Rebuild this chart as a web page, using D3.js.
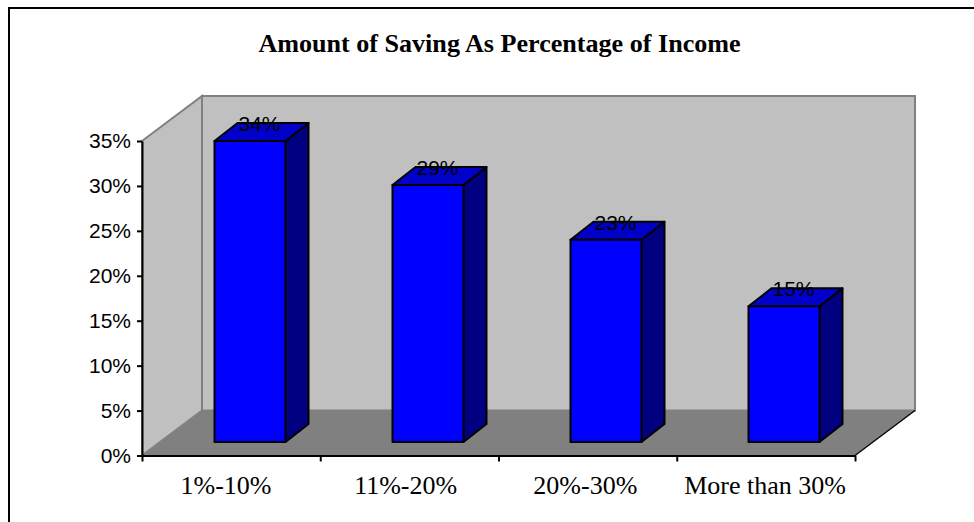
<!DOCTYPE html>
<html><head><meta charset="utf-8">
<script src="https://cdn.jsdelivr.net/npm/d3@7"></script>
<style>html,body{margin:0;padding:0;background:#fff;overflow:hidden}svg{display:block}</style>
</head><body><svg id="c" width="974" height="522"></svg>
<script>
const titleText = "Amount of Saving As Percentage of Income";
const categories = ["1%-10%","11%-20%","20%-30%","More than 30%"];
const values = [33.5,28.6,22.5,15.1];
const valueLabels = ["34%","29%","23%","15%"];
const yTicks = [0,5,10,15,20,25,30,35];

const svg = d3.select("#c");
const x0=142,x1=855,y0=455.5,y1=141;
const dx=60,dy=45;           // wall depth
const bdx=23,bdy=18;         // bar depth
const off={x:18.2,y:13.5};   // bar placement inside floor
const x=d3.scaleBand().domain(categories).range([x0,x1]).paddingInner(.6).paddingOuter(.3);
const xLabel=d3.scalePoint().domain(categories).range([226,765]);
const y=d3.scaleLinear().domain([0,35]).range([y0,y1]);
const pts=a=>a.map(p=>p.join(",")).join(" ");

// frame
svg.append("path").attr("d","M9,522V8H974").attr("fill","none").attr("stroke","#000").attr("stroke-width",2);

// title
svg.append("text").attr("x",499.5).attr("y",52).attr("text-anchor","middle")
  .attr("font-family","Liberation Serif").attr("font-weight","bold").attr("font-size",26.1).text(titleText);

// walls
const wall={fill:"#c0c0c0",stroke:"#808080"};
svg.append("polygon").attr("points",pts([[x0,y1],[x0+dx,y1-dy],[x0+dx,y0-dy],[x0,y0]]))
  .attr("fill",wall.fill).attr("stroke",wall.stroke).attr("stroke-width",2);
svg.append("polygon").attr("points",pts([[x0+dx,y1-dy],[x1+dx,y1-dy],[x1+dx,y0-dy],[x0+dx,y0-dy]]))
  .attr("fill",wall.fill).attr("stroke",wall.stroke).attr("stroke-width",2);
svg.append("polygon").attr("points",pts([[x0,y0],[x0+dx,y0-dy],[x1+dx,y0-dy],[x1,y0]])).attr("fill","#808080");
svg.append("line").attr("x1",x1).attr("y1",y0).attr("x2",x1+dx).attr("y2",y0-dy).attr("stroke","#000").attr("stroke-width",1.3);

// axes
const font="Liberation Sans";
const ay=svg.append("g").attr("transform",`translate(${x0},0)`)
  .call(d3.axisLeft(y).tickValues(yTicks).tickFormat(d=>d+"%").tickSize(5).tickSizeOuter(0).tickPadding(6));
ay.selectAll("text").attr("font-family",font).attr("font-size",21).attr("fill","#000");
const xEdge=d3.scaleLinear().domain([0,categories.length]).range([x0,x1]);
const ax=svg.append("g").attr("transform",`translate(0,${y0})`)
  .call(d3.axisBottom(xEdge).tickValues(d3.range(categories.length+1)).tickFormat("").tickSize(6).tickSizeOuter(0));
[ay,ax].forEach(a=>a.selectAll("path,line").attr("stroke","#000").attr("stroke-width",2));

svg.append("g").selectAll("text").data(categories).join("text")
  .attr("x",d=>xLabel(d)).attr("y",494).attr("text-anchor","middle")
  .attr("font-family","Liberation Serif").attr("font-size",26).attr("fill","#000").text(d=>d);

// bars
const g=svg.append("g").selectAll("g").data(categories).join("g");
const L=d=>Math.round(x(d)+off.x)+.5, R=d=>L(d)+71, B=y0-off.y, T=(d,i)=>y(values[i])-off.y;
const bar={stroke:"#000","stroke-width":2,"stroke-linejoin":"round"};
function style(s){Object.entries(bar).forEach(([k,v])=>s.attr(k,v));return s;}
style(g.append("polygon").attr("fill","#000080").attr("points",(d,i)=>pts([[R(d),T(d,i)],[R(d)+bdx,T(d,i)-bdy],[R(d)+bdx,B-bdy],[R(d),B]])));
style(g.append("polygon").attr("fill","#0000c8").attr("points",(d,i)=>pts([[L(d),T(d,i)],[L(d)+bdx,T(d,i)-bdy],[R(d)+bdx,T(d,i)-bdy],[R(d),T(d,i)]])));
style(g.append("rect").attr("fill","#0000ff").attr("x",L).attr("width",71).attr("y",T).attr("height",(d,i)=>B-T(d,i)));
g.append("text").attr("x",d=>L(d)+71/2+9.5).attr("y",(d,i)=>T(d,i)-10).attr("text-anchor","middle")
  .attr("font-family",font).attr("font-size",21).attr("fill","#000").text((d,i)=>valueLabels[i]);
</script></body></html>
